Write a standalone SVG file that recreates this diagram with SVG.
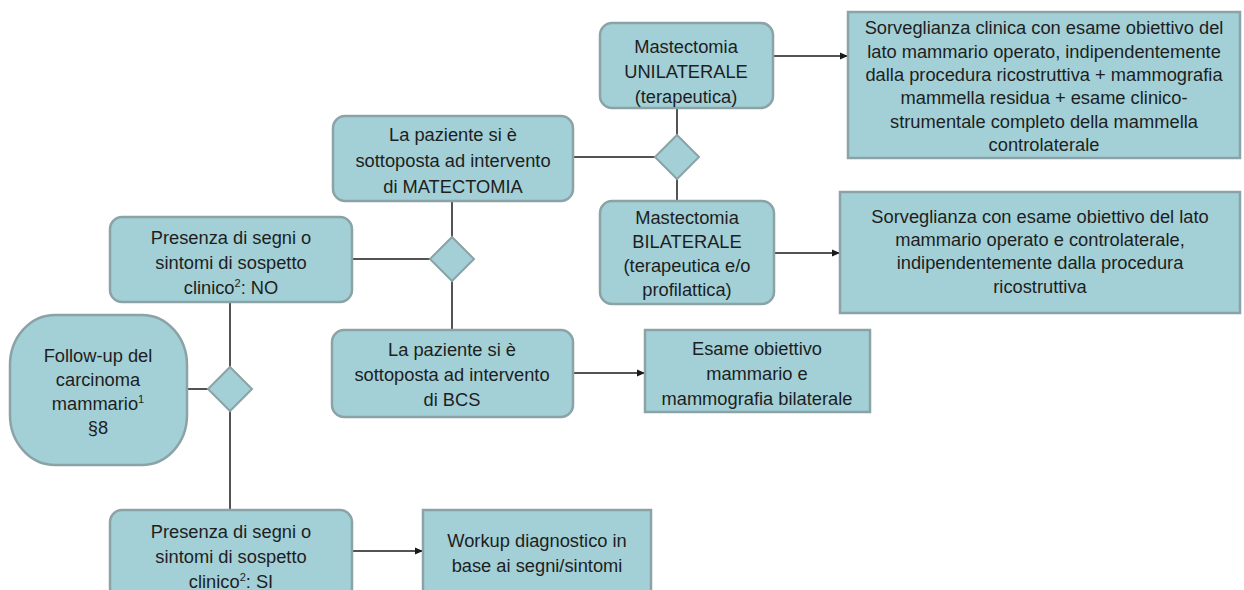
<svg xmlns="http://www.w3.org/2000/svg" width="1244" height="590" viewBox="0 0 1244 590">
<style>
.n{fill:#a2d0d6;stroke:#8ba3a6;stroke-width:2.5}
.d{fill:#a2d0d6;stroke:#8ba3a6;stroke-width:2}
.t{font-family:"Liberation Sans",Arial,sans-serif;font-size:18.3px;fill:#1e1e1e;text-anchor:middle}
.c{stroke:#1a1a1a;stroke-width:1.5;fill:none}
.sup{font-size:11px}
</style>
<defs>
<marker id="ah" markerWidth="8" markerHeight="8" refX="7" refY="4" orient="auto" markerUnits="userSpaceOnUse">
<path d="M0,0.5 L8,4 L0,7.5 Z" fill="#1a1a1a"/>
</marker>
</defs>
<rect width="1244" height="590" fill="#ffffff"/>
<g id="connectors">
<line class="c" x1="187" y1="389" x2="208" y2="389"/>
<line class="c" x1="230" y1="302" x2="230" y2="367"/>
<line class="c" x1="230" y1="411" x2="230" y2="510"/>
<line class="c" x1="352" y1="259" x2="430" y2="259"/>
<line class="c" x1="452" y1="201" x2="452" y2="237"/>
<line class="c" x1="452" y1="281" x2="452" y2="330"/>
<line class="c" x1="573" y1="157" x2="655" y2="157"/>
<line class="c" x1="677" y1="108" x2="677" y2="135"/>
<line class="c" x1="677" y1="179" x2="677" y2="201"/>
<line class="c" x1="773" y1="56" x2="847" y2="56" marker-end="url(#ah)"/>
<line class="c" x1="774" y1="253" x2="839" y2="253" marker-end="url(#ah)"/>
<line class="c" x1="573" y1="373" x2="644" y2="373" marker-end="url(#ah)"/>
<line class="c" x1="352" y1="551" x2="422" y2="551" marker-end="url(#ah)"/>
</g>
<g id="followup">
<rect class="n" x="10" y="315" width="177" height="150" rx="45" ry="50"/>
<text class="t" x="98" y="362">Follow-up del</text>
<text class="t" x="98" y="386">carcinoma</text>
<text class="t" x="98" y="410">mammario<tspan class="sup" dy="-7">1</tspan></text>
<text class="t" x="98" y="434">§8</text>
</g>
<g id="diamond1"><path class="d" d="M230,367 L252,389 L230,411 L208,389 Z"/></g>
<g id="node-no">
<rect class="n" x="110" y="217" width="242" height="85" rx="12"/>
<text class="t" x="231" y="244">Presenza di segni o</text>
<text class="t" x="231" y="269">sintomi di sospetto</text>
<text class="t" x="231" y="294">clinico<tspan class="sup" dy="-7">2</tspan><tspan dy="7">: NO</tspan></text>
</g>
<g id="node-si">
<rect class="n" x="110" y="510" width="242" height="90" rx="12"/>
<text class="t" x="231" y="538">Presenza di segni o</text>
<text class="t" x="231" y="563">sintomi di sospetto</text>
<text class="t" x="231" y="588">clinico<tspan class="sup" dy="-7">2</tspan><tspan dy="7">: SI</tspan></text>
</g>
<g id="workup">
<rect class="n" x="423" y="510" width="228" height="90"/>
<text class="t" x="537" y="547">Workup diagnostico in</text>
<text class="t" x="537" y="572">base ai segni/sintomi</text>
</g>
<g id="diamond2"><path class="d" d="M452,237 L474,259 L452,281 L430,259 Z"/></g>
<g id="matectomia">
<rect class="n" x="333" y="116" width="240" height="85" rx="12"/>
<text class="t" x="453" y="141">La paziente si è</text>
<text class="t" x="453" y="167">sottoposta ad intervento</text>
<text class="t" x="453" y="193">di MATECTOMIA</text>
</g>
<g id="bcs">
<rect class="n" x="332" y="330" width="241" height="87" rx="12"/>
<text class="t" x="452" y="356">La paziente si è</text>
<text class="t" x="452" y="381">sottoposta ad intervento</text>
<text class="t" x="452" y="406">di BCS</text>
</g>
<g id="esame">
<rect class="n" x="645" y="330" width="225" height="82"/>
<text class="t" x="757" y="355">Esame obiettivo</text>
<text class="t" x="757" y="380">mammario e</text>
<text class="t" x="757" y="405">mammografia bilaterale</text>
</g>
<g id="diamond3"><path class="d" d="M677,135 L699,157 L677,179 L655,157 Z"/></g>
<g id="unilaterale">
<rect class="n" x="600" y="23" width="173" height="85" rx="12"/>
<text class="t" x="686" y="53">Mastectomia</text>
<text class="t" x="686" y="78">UNILATERALE</text>
<text class="t" x="686" y="103">(terapeutica)</text>
</g>
<g id="bilaterale">
<rect class="n" x="600" y="201" width="174" height="103" rx="12"/>
<text class="t" x="687" y="224">Mastectomia</text>
<text class="t" x="687" y="248">BILATERALE</text>
<text class="t" x="687" y="272">(terapeutica e/o</text>
<text class="t" x="687" y="296">profilattica)</text>
</g>
<g id="sorv-clinica">
<rect class="n" x="848" y="12" width="392" height="146"/>
<text class="t" x="1044" y="34">Sorveglianza clinica con esame obiettivo del</text>
<text class="t" x="1044" y="58">lato mammario operato, indipendentemente</text>
<text class="t" x="1044" y="81">dalla procedura ricostruttiva + mammografia</text>
<text class="t" x="1044" y="104">mammella residua + esame clinico-</text>
<text class="t" x="1044" y="128">strumentale completo della mammella</text>
<text class="t" x="1044" y="151">controlaterale</text>
</g>
<g id="sorv-bilat">
<rect class="n" x="840" y="192" width="400" height="121"/>
<text class="t" x="1040" y="223">Sorveglianza con esame obiettivo del lato</text>
<text class="t" x="1040" y="246">mammario operato e controlaterale,</text>
<text class="t" x="1040" y="269">indipendentemente dalla procedura</text>
<text class="t" x="1040" y="293">ricostruttiva</text>
</g>
</svg>
